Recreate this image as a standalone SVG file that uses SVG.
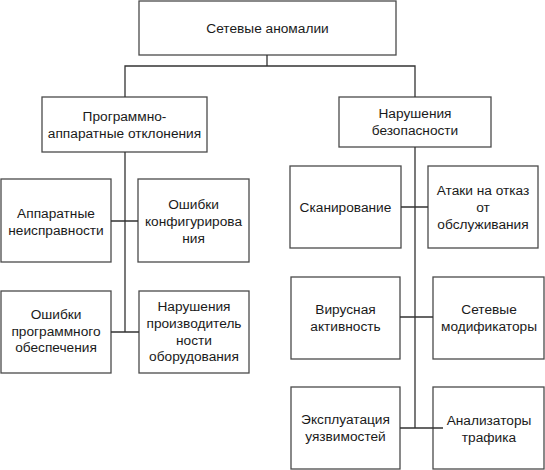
<svg xmlns="http://www.w3.org/2000/svg" width="545" height="470" viewBox="0 0 545 470">
<style>
.box{fill:#fff;stroke:#4a4a4a;stroke-width:1.3}
.t{font-family:"Liberation Sans",Arial,sans-serif;font-size:13.7px;fill:#1a1a1a;text-anchor:middle}
.c{fill:none;stroke:#333;stroke-width:1.3}
</style>
<rect width="545" height="470" fill="#fff"/>
<g id="n-root"><rect class="box" x="139" y="1" width="257" height="54"/><text class="t" x="267.5" y="32.5">Сетевые аномалии</text></g>
<g id="n-hw"><rect class="box" x="42" y="97" width="165" height="55"/><text class="t" x="124.5" y="121">Программно-</text><text class="t" x="124.5" y="138">аппаратные отклонения</text></g>
<g id="n-sec"><rect class="box" x="339" y="97" width="152" height="50"/><text class="t" x="415" y="118">Нарушения</text><text class="t" x="415" y="135">безопасности</text></g>
<g id="n-hwfail"><rect class="box" x="1" y="179" width="110" height="83"/><text class="t" x="56" y="217.5">Аппаратные</text><text class="t" x="56" y="234.5">неисправности</text></g>
<g id="n-conf"><rect class="box" x="138" y="179" width="111" height="83"/><text class="t" x="193.5" y="208.5">Ошибки</text><text class="t" x="193.5" y="225.5">конфигурирова</text><text class="t" x="193.5" y="242.5">ния</text></g>
<g id="n-sw"><rect class="box" x="1" y="291" width="110" height="82"/><text class="t" x="56" y="319">Ошибки</text><text class="t" x="56" y="336">программного</text><text class="t" x="56" y="352">обеспечения</text></g>
<g id="n-perf"><rect class="box" x="139" y="291" width="110" height="82"/><text class="t" x="194" y="311">Нарушения</text><text class="t" x="194" y="328">производитель</text><text class="t" x="194" y="345">ности</text><text class="t" x="194" y="361">оборудования</text></g>
<g id="n-scan"><rect class="box" x="290" y="166" width="111" height="82"/><text class="t" x="345.5" y="211.5">Сканирование</text></g>
<g id="n-dos"><rect class="box" x="428" y="166" width="110" height="82"/><text class="t" x="483" y="194.5">Атаки на отказ</text><text class="t" x="483" y="211.5">от</text><text class="t" x="483" y="228.5">обслуживания</text></g>
<g id="n-virus"><rect class="box" x="291" y="277" width="109" height="82"/><text class="t" x="345.5" y="314">Вирусная</text><text class="t" x="345.5" y="330.5">активность</text></g>
<g id="n-mod"><rect class="box" x="433" y="277" width="111" height="82"/><text class="t" x="489" y="314">Сетевые</text><text class="t" x="489" y="330.5">модификаторы</text></g>
<g id="n-exploit"><rect class="box" x="291" y="387" width="109" height="82"/><text class="t" x="345.5" y="424">Эксплуатация</text><text class="t" x="345.5" y="441">уязвимостей</text></g>
<g id="n-sniff"><rect class="box" x="433" y="387" width="111" height="82"/><text class="t" x="489" y="425">Анализаторы</text><text class="t" x="489" y="441.5">трафика</text></g>
<g id="connectors">
<path class="c" d="M267,55 V66 M125,97 V66 H415 V97"/>
<path class="c" d="M125,152 V332 M111,221 H138 M111,332 H139"/>
<path class="c" d="M415,147 V428 M401,207 H428 M400,317 H433 M400,428 H443"/>
</g>
</svg>
